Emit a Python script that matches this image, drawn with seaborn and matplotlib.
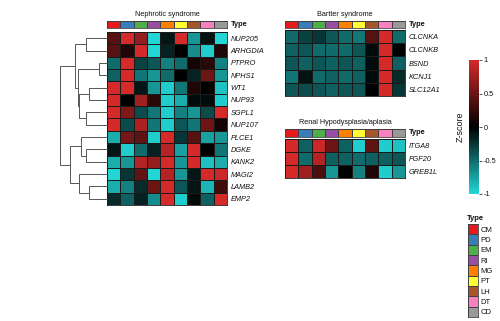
import numpy as np
import pandas as pd
import matplotlib
matplotlib.use("Agg")
import matplotlib.pyplot as plt
import seaborn as sns
from matplotlib.colors import LinearSegmentedColormap, ListedColormap

sns.set_theme(style="white")
plt.rcParams["font.family"] = ["Liberation Sans", "DejaVu Sans"]

# ---------------- data ----------------
types = ["CM", "PD", "EM", "RI", "MG", "PT", "LH", "DT", "CD"]
type_colors = ["#e41a1c", "#377eb8", "#4daf4a", "#984ea3", "#ff7f00",
               "#ffff33", "#a65628", "#f781bf", "#999999"]

nephrotic_genes = ["NUP205", "ARHGDIA", "PTPRO", "NPHS1", "WT1", "NUP93", "SGPL1",
                   "NUP107", "PLCE1", "DGKE", "KANK2", "MAGI2", "LAMB2", "EMP2"]
nephrotic_values = [
    [0.40, 1.00, 0.70, -1.00, -0.10, 1.00, -0.70, -0.08, -1.00],
    [0.40, 0.15, 1.00, -1.00, -0.15, 0.00, -0.65, -0.95, 0.15],
    [-0.50, 1.00, -0.30, -0.40, -0.60, -0.50, 0.10, 0.20, -0.60],
    [-0.45, 1.00, -0.55, -0.70, -0.50, 0.00, -0.15, 0.50, -0.70],
    [1.00, 1.00, -0.10, -0.70, -0.95, -0.55, 0.15, 0.00, -0.90],
    [1.00, 0.00, 0.75, 0.20, -0.95, -0.80, -0.05, -0.05, -0.95],
    [1.00, 0.60, -0.35, -0.55, -0.95, -0.60, -0.70, -0.35, 1.00],
    [1.00, -0.35, 0.80, -0.55, -0.95, -0.40, -0.55, 0.50, 0.10],
    [-0.80, 0.55, 0.45, -0.95, 1.00, -0.25, 0.40, -0.75, -0.70],
    [-0.10, -0.95, -0.50, -0.15, 0.85, -0.75, 1.00, 0.00, -0.55],
    [-0.80, -0.70, 0.85, 0.70, 1.00, -0.70, 1.00, -0.90, -0.80],
    [-1.00, -0.25, 0.45, -1.00, 0.85, -0.70, -0.10, 1.00, 0.95],
    [-0.80, -0.60, -0.20, 0.50, 1.00, -0.40, -0.10, -0.85, 0.30],
    [-0.20, -0.45, -0.15, -0.65, 1.00, -0.95, -0.05, -0.45, 1.00],
]
# row dendrogram: (left node, right node, merge height); leaves 0..13, merges 14..
nephrotic_linkage = [
    (0, 1, 20.7), (2, 3, 8.0), (4, 5, 17.4), (6, 7, 20.7), (16, 17, 27.4),
    (15, 18, 28.4), (14, 19, 31.7), (9, 10, 20.7), (8, 21, 25.0), (12, 13, 17.4),
    (11, 23, 27.4), (22, 24, 36.0), (20, 25, 46.0),
]

bartter_genes = ["CLCNKA", "CLCNKB", "BSND", "KCNJ1", "SLC12A1"]
bartter_values = [
    [-0.50, -0.30, -0.25, -0.40, -0.50, -0.55, 0.40, 1.00, -0.50],
    [-0.45, -0.40, -0.50, -0.50, -0.50, -0.40, -0.05, 1.00, -0.02],
    [-0.40, -0.45, -0.40, -0.45, -0.40, -0.45, -0.05, 1.00, -0.45],
    [-0.55, -0.08, -0.50, -0.45, -0.50, -0.45, -0.05, 1.00, -0.20],
    [-0.40, -0.35, -0.40, -0.45, -0.40, -0.40, 0.00, 1.00, -0.25],
]

renal_genes = ["ITGA8", "FGF20", "GREB1L"]
renal_values = [
    [1.00, -0.45, 0.95, 0.50, -0.45, -0.95, 0.45, -0.95, -0.90],
    [1.00, -0.50, 0.85, -0.45, -0.45, -0.50, -0.45, -0.45, -0.40],
    [1.00, 0.75, 0.35, -0.70, 0.00, -0.60, 0.15, -0.95, -0.70],
]

cbar_ticks = [-1, -0.5, 0, 0.5, 1]
cbar_labels = ["-1", "-0.5", "0", "0.5", "1"]

# ---------------- layout ----------------
W, H = 500, 321
fig = plt.figure(figsize=(W / 100, H / 100), dpi=100)


def rect(x0, y0, x1, y1):
    return [x0 / W, 1 - y1 / H, (x1 - x0) / W, (y1 - y0) / H]


zcmap = LinearSegmentedColormap.from_list("z", ["#22d6d6", "#000000", "#d42a2a"])
type_cmap = ListedColormap(type_colors)
LAB = 5.3


def draw_annot(box, lx):
    aax = fig.add_axes(rect(*box))
    adf = pd.DataFrame([list(range(len(types)))], columns=types, index=["Type"])
    sns.heatmap(adf, ax=aax, cmap=type_cmap, vmin=-0.5, vmax=len(types) - 0.5,
                cbar=False, linewidths=0.5, linecolor="#404040",
                xticklabels=False, yticklabels=False)
    aax.set_xlabel(""); aax.set_ylabel("")
    for s in aax.spines.values():
        s.set_visible(True); s.set_color("#404040"); s.set_linewidth(0.6)
    yc = (box[1] + box[3]) / 2
    fig.text(lx / W, 1 - yc / H, "Type", fontsize=LAB, fontweight="bold",
             va="center", ha="left", color="#111111")


def draw_heat(values, genes, box, annot_box, title, title_y, cbar_ax=None):
    ax = fig.add_axes(rect(*box))
    df = pd.DataFrame(values, index=genes, columns=types)
    kws = {}
    if cbar_ax is not None:
        kws = dict(cbar=True, cbar_ax=cbar_ax, cbar_kws={"ticks": cbar_ticks})
    else:
        kws = dict(cbar=False)
    sns.heatmap(df, ax=ax, cmap=zcmap, vmin=-1, vmax=1, linewidths=0.5,
                linecolor="#1a1a1a", xticklabels=False, yticklabels=True, **kws)
    ax.yaxis.tick_right()
    ax.tick_params(axis="y", length=0, pad=2.5, labelsize=LAB, rotation=0,
                   labelright=True, labelleft=False, colors="#111111")
    for t in ax.get_yticklabels():
        t.set_style("italic")
    ax.set_xlabel(""); ax.set_ylabel("")
    for s in ax.spines.values():
        s.set_visible(True); s.set_color("#1a1a1a"); s.set_linewidth(0.6)
    draw_annot(annot_box, box[2] + 4)
    fig.text((box[0] + box[2]) / 2 / W, 1 - title_y / H, title, fontsize=5.2,
             ha="center", va="center", color="#111111")
    return ax


cax = fig.add_axes(rect(469, 60, 479, 194))
ax_main = draw_heat(nephrotic_values, nephrotic_genes, (107, 32, 227, 205),
                    (107, 21, 227, 28), "Nephrotic syndrome", 14, cbar_ax=cax)
draw_heat(bartter_values, bartter_genes, (285, 30, 405, 96),
          (285, 20.5, 405, 28), "Bartter syndrome", 14)
draw_heat(renal_values, renal_genes, (285, 139, 405, 178),
          (285, 129, 405, 137), "Renal Hypodysplasia/aplasia", 123)

# colorbar styling
cb = ax_main.collections[0].colorbar
cb.outline.set_visible(False)
cb.set_ticks(cbar_ticks)
cb.set_ticklabels(cbar_labels)
cax.tick_params(axis="y", length=2, width=0.5, labelsize=5.3, pad=1.5,
                colors="#111111")
cax.yaxis.set_ticks_position("right")
cb.set_label("Z-score", fontsize=6.5, labelpad=3, color="#111111")
cax.yaxis.set_label_position("left")

# dendrogram
dax = fig.add_axes(rect(60, 32, 107, 205))
n = len(nephrotic_genes)
pos = {i: (0.0, i + 0.5) for i in range(n)}
for k, (a, b, h) in enumerate(nephrotic_linkage):
    ha, ya = pos[a]
    hb, yb = pos[b]
    dax.plot([ha, h, h, hb], [ya, ya, yb, yb], color="#555555", lw=0.7,
             clip_on=False, solid_joinstyle="miter")
    pos[n + k] = (h, (ya + yb) / 2)
dax.set_xlim(max(l[2] for l in nephrotic_linkage), 0)
dax.set_ylim(n, 0)
dax.axis("off")

# Type legend
lax = fig.add_axes(rect(468, 224, 478, 317))
ldf = pd.DataFrame({"Type": list(range(len(types)))}, index=types)
sns.heatmap(ldf, ax=lax, cmap=type_cmap, vmin=-0.5, vmax=len(types) - 0.5,
            cbar=False, linewidths=0.5, linecolor="#404040",
            xticklabels=False, yticklabels=True)
lax.yaxis.tick_right()
lax.tick_params(axis="y", length=0, pad=2, labelsize=5.5, rotation=0,
                labelright=True, labelleft=False, colors="#111111")
lax.set_xlabel(""); lax.set_ylabel("")
for s in lax.spines.values():
    s.set_visible(True); s.set_color("#404040"); s.set_linewidth(0.6)
fig.text(467 / W, 1 - 219 / H, "Type", fontsize=5.5, fontweight="bold",
         ha="left", va="center", color="#111111")

fig.savefig("out.png", dpi=100, facecolor="white")
